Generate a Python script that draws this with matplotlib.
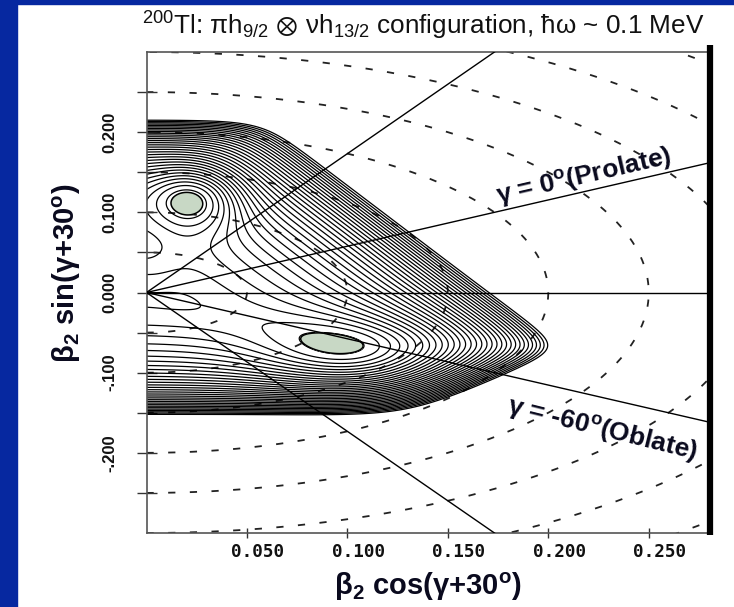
import numpy as np
import matplotlib
matplotlib.use('Agg')
import matplotlib.pyplot as plt
from matplotlib.patches import Rectangle
from matplotlib.transforms import offset_copy

plt.rcParams['mathtext.default'] = 'regular'

# values
x_ticks = [0.05, 0.10, 0.15, 0.20, 0.25]
x_ticklabels = ['0.050', '0.100', '0.150', '0.200', '0.250']
y_ticks = [-0.2, -0.1, 0.0, 0.1, 0.2]
y_ticklabels = ['-.200', '-.100', '0.000', '0.100', '0.200']
beta_circles = [0.05, 0.10, 0.15, 0.20, 0.25, 0.30, 0.35, 0.40]
sector_angles = [60, 30, 0, -30, -60]   # gamma + 30 deg

# energy surface: the two minima ...
min_x = [0.024, 0.107]
min_y = [0.119, -0.080]
min_depth = [0.22, 0.21]
min_wx = [0.016, 0.036]
min_wy = [0.028, 0.034]
min_fill = [0.026, 0.020]
ring_gap = 0.04           # first contour above the upper minimum
# ... a low ridge along the axis between them ...
hump_x, hump_y, hump_h = -0.004, 0.055, 0.07
hump_wx, hump_wy = 0.014, 0.035
# ... and the walls that bound the drawn region (point, slope, side, softness px)
wall_x = [0.0, 0.105, 0.0, 0.198]
wall_y = [0.215, 0.124, -0.152, -0.080]
wall_slope = [0.0, -1.9, 0.0, 1.03]
wall_side = [1, 1, -1, -1]
wall_soft = [40, 70, 40, 50]

e_step = 0.031
e_top = 1.0

XMAX = 0.2805
fig = plt.figure(figsize=(7.34, 6.07), dpi=100)
blue = '#0628a0'
fig.patches.append(Rectangle((0, 0), 17/734, 1, transform=fig.transFigure,
                             color=blue, zorder=-10))
fig.patches.append(Rectangle((0, 1-4/607), 1, 4/607, transform=fig.transFigure,
                             color=blue, zorder=-10))
ax = fig.add_axes([146.5/734, 1-533/607, (710-146.5)/734, (533-52)/607])
ax.set_xlim(0, XMAX)
ax.set_ylim(-0.3, 0.3)

# pixels per data unit (walls are soft in screen pixels)
XS = (710-146.5)/XMAX
YS = (533-52)/0.6

x = np.linspace(0, XMAX, 800)
y = np.linspace(-0.3, 0.3, 800)
X, Y = np.meshgrid(x, y)
PX, PY = X*XS, Y*YS

# smooth maximum of the scaled distances to the walls
tau = 0.2
S = np.zeros_like(X)
for x0, y0, m, side, w in zip(wall_x, wall_y, wall_slope, wall_side, wall_soft):
    mp = m*YS/XS
    d = side*(PY - y0*YS - mp*(PX - x0*XS))/np.sqrt(1 + mp**2)
    S += np.exp(d/w/tau)
E = np.exp(tau*np.log(S))
for mx, my, a, sx, sy in zip(min_x, min_y, min_depth, min_wx, min_wy):
    E -= a*np.exp(-((X-mx)**2/(2*sx**2) + (Y-my)**2/(2*sy**2)))
E += hump_h*np.exp(-((X-hump_x)**2/(2*hump_wx**2) + (Y-hump_y)**2/(2*hump_wy**2)))

# equal spacing from the outer edge down to a ring round the upper minimum
win1 = (np.abs(X-min_x[0]) < 0.035) & (np.abs(Y-min_y[0]) < 0.035)
e_ring = E[win1].min() + ring_gap
n_lev = int(round((e_top - e_ring)/e_step))
levels = np.linspace(e_ring, e_top, n_lev + 1)
ax.contour(X, Y, E, levels=levels, colors='k', linewidths=0.9, zorder=2)

# shaded bottoms of the two wells
for mx, my, f in zip(min_x, min_y, min_fill):
    win = (np.abs(X-mx) < 0.035) & (np.abs(Y-my) < 0.035)
    emin = E[win].min()
    Ew = np.where(win, E, np.nan)
    ax.contourf(X, Y, Ew, levels=[emin-1, emin+f], colors=['#c8d8c5'], zorder=3)
    ax.contour(X, Y, Ew, levels=[emin+f], colors='k', linewidths=1.1, zorder=3)

t = np.linspace(-np.pi/2, np.pi/2, 500)
for r in beta_circles:
    ax.plot(r*np.cos(t), r*np.sin(t), ls=(0, (4, 8)), color='#222222', lw=1.3, zorder=1)
for a in sector_angles:
    ar = np.radians(a)
    ax.plot([0, 0.6*np.cos(ar)], [0, 0.6*np.sin(ar)], color='k', lw=1.0, zorder=4)

for s in ['left', 'top', 'bottom']:
    ax.spines[s].set_color('#555555')
    ax.spines[s].set_linewidth(1.2)
ax.spines['right'].set_visible(False)
ax.plot([1, 1], [-0.005, 1.015], transform=ax.transAxes, color='k', lw=4.5,
        clip_on=False, solid_capstyle='butt', zorder=6)

ax.set_xticks(x_ticks)
ax.set_xticklabels([])
ax.set_yticks(np.arange(-0.25, 0.26, 0.05))
ax.set_yticklabels([])
ax.tick_params(axis='x', direction='inout', length=6.5, width=1, color='#333333')
ax.tick_params(axis='y', direction='inout', length=13.7, width=1, color='#333333')

xt = offset_copy(ax.get_xaxis_transform(), fig=fig, x=11, y=-18.7, units='dots')
for v, s in zip(x_ticks, x_ticklabels):
    ax.text(v, 0, s, transform=xt, ha='center', va='center', fontsize=12.7,
            family='DejaVu Sans Mono', weight='bold', color='#111111')
yt = offset_copy(ax.get_yaxis_transform(), fig=fig, x=-37, y=0, units='dots')
for v, s in zip(y_ticks, y_ticklabels):
    ax.text(0, v, s, transform=yt, ha='center', va='center', fontsize=12,
            rotation=90, family='Liberation Sans', weight='bold', color='#111111')

lab = dict(family='Liberation Sans', weight='bold', color='#0a0a1e')
fig.text(428/734, 1-587/607, r'β$_2$ cos(γ+30$^o$)', ha='center', va='center',
         fontsize=21, **lab)
fig.text(67/734, 1-273/607, r'β$_2$ sin(γ+30$^o$)', ha='center', va='center',
         fontsize=21, rotation=90, **lab)
fig.text(423/734, 1-26/607,
         r'$^{200}$Tl: $\pi$h$_{9/2}$ $\otimes$ $\nu$h$_{13/2}$ configuration, $\hbar\omega$ ~ 0.1 MeV',
         ha='center', va='center', fontsize=18.8, family='Liberation Sans', color='#111111')

ax.text(0.218, 0.1447, r'γ = 0$^o$(Prolate)', rotation=13, ha='center', va='center',
        fontsize=19, **lab)
ax.text(0.227, -0.171, r'γ = -60$^o$(Oblate)', rotation=-14, ha='center', va='center',
        fontsize=19, **lab)

fig.savefig('out.png', dpi=100)
